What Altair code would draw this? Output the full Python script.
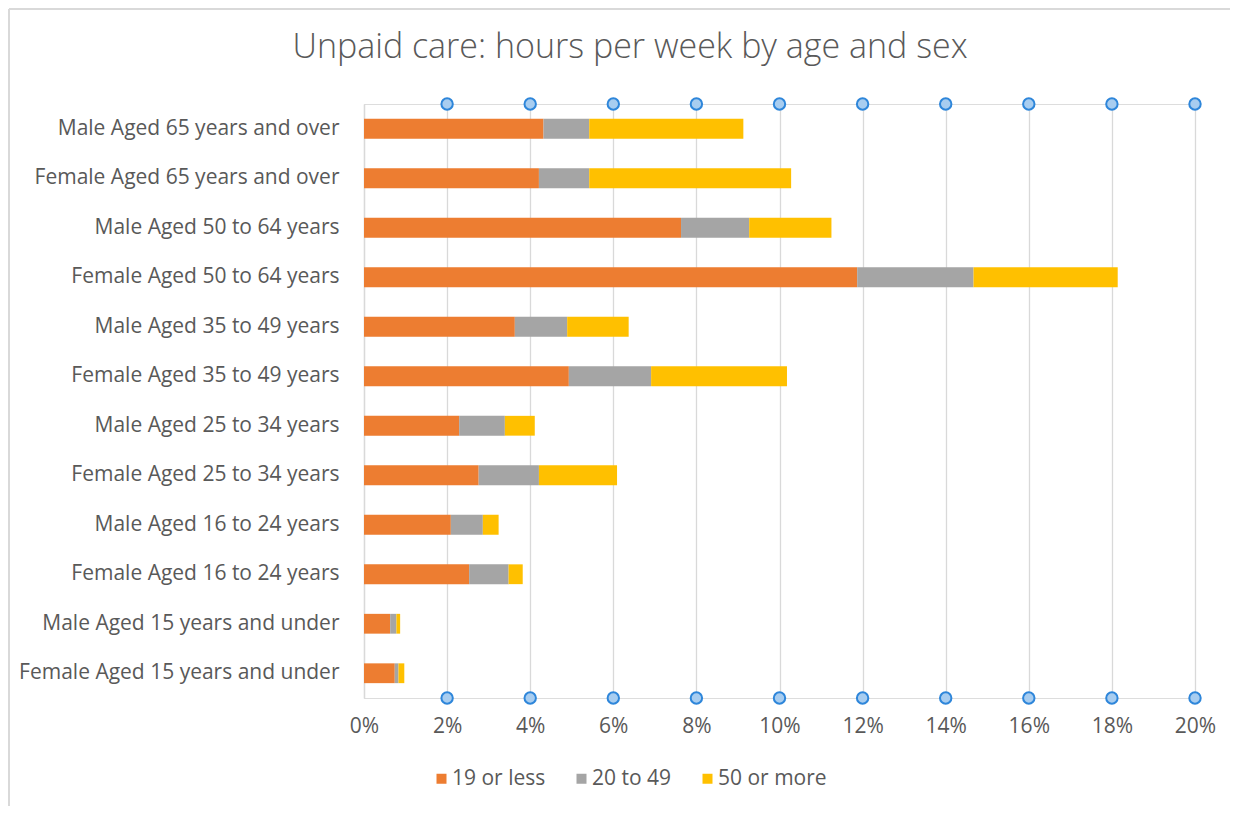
import altair as alt
import pandas as pd

categories = [
    "Male Aged 65 years and over", "Female Aged 65 years and over",
    "Male Aged 50 to 64 years", "Female Aged 50 to 64 years",
    "Male Aged 35 to 49 years", "Female Aged 35 to 49 years",
    "Male Aged 25 to 34 years", "Female Aged 25 to 34 years",
    "Male Aged 16 to 24 years", "Female Aged 16 to 24 years",
    "Male Aged 15 years and under", "Female Aged 15 years and under",
]
series = ["19 or less", "20 to 49", "50 or more"]
low = [4.32, 4.21, 7.63, 11.87, 3.63, 4.93, 2.29, 2.76, 2.09, 2.53, 0.63, 0.74]
mid = [1.10, 1.21, 1.64, 2.80, 1.26, 1.98, 1.10, 1.45, 0.77, 0.95, 0.15, 0.09]
high = [3.71, 4.86, 1.98, 3.47, 1.48, 3.27, 0.72, 1.88, 0.38, 0.34, 0.09, 0.14]
ticks = [0, 0.02, 0.04, 0.06, 0.08, 0.10, 0.12, 0.14, 0.16, 0.18, 0.20]
markers = [0.02, 0.04, 0.06, 0.08, 0.10, 0.12, 0.14, 0.16, 0.18, 0.20]
colors = ["#ED7D31", "#A5A5A5", "#FFC000"]
title_text = "Unpaid care: hours per week by age and sex"

rows = []
for i, c in enumerate(categories):
    for j, (s, vals) in enumerate(zip(series, [low, mid, high])):
        rows.append({"cat": c, "series": s, "order": j, "value": vals[i] / 100})
df = pd.DataFrame(rows)
mdf = pd.DataFrame({"v": markers})
one = pd.DataFrame({"t": [title_text]})

W, H = 831, 594
FONT = "Open Sans"
GREY = "#595959"
FS = 21

xscale = alt.Scale(domain=[0, 0.2], nice=False)

bars = alt.Chart(df).mark_bar().encode(
    y=alt.Y("cat:N", sort=categories, title=None,
            scale=alt.Scale(paddingInner=0.6, paddingOuter=0.3),
            axis=alt.Axis(ticks=False, domain=True, domainColor="#D9D9D9",
                          domainWidth=1.3, labelPadding=25, labelFontSize=FS,
                          labelFont=FONT, labelColor=GREY, labelLimit=400)),
    x=alt.X("value:Q", stack="zero", scale=xscale, title=None,
            axis=alt.Axis(values=ticks, format=".0%", grid=True, gridColor="#D9D9D9",
                          gridWidth=1.3, ticks=False, domain=False, labelPadding=17,
                          labelFlush=False, labelFontSize=FS, labelFont=FONT,
                          labelColor=GREY)),
    color=alt.Color("series:N", scale=alt.Scale(domain=series, range=colors),
                    legend=alt.Legend(title=None, orient="none", direction="horizontal",
                                      legendX=67, legendY=664, symbolType="square",
                                      symbolSize=100, labelFontSize=FS, labelFont=FONT,
                                      labelColor=GREY, labelOffset=0, columnPadding=25,
                                      symbolStrokeWidth=0)),
    order=alt.Order("order:Q"),
)

def pts(yv):
    return alt.Chart(mdf).mark_point(shape="circle", filled=False, size=130,
                                     fill="#A8CDF0", fillOpacity=1, stroke="#2E86DA",
                                     strokeWidth=2, opacity=1).encode(
        x=alt.X("v:Q", scale=xscale), y=alt.value(yv))

title = alt.Chart(one).mark_text(font=FONT, fontSize=34, fontWeight=300, color=GREY,
                                 align="center", baseline="middle").encode(
    text="t:N", x=alt.value(266), y=alt.value(-56))

border_v = alt.Chart(one).mark_rule(color="#D9D9D9", strokeWidth=2).encode(
    x=alt.value(-355), y=alt.value(-95), y2=alt.value(H + 140))
border_h = alt.Chart(one).mark_rule(color="#D9D9D9", strokeWidth=2).encode(
    x=alt.value(-355), x2=alt.value(W + 50), y=alt.value(-95))

chart = alt.layer(bars, pts(0), pts(H), title, border_v, border_h).properties(
    width=W, height=H,
    autosize=alt.AutoSizeParams(type="none"),
    padding={"left": 356, "top": 96, "right": 35, "bottom": 108},
).configure_view(strokeWidth=0, stroke="transparent").configure(background="white")

chart.save("out.html", embed_options={"renderer": "svg", "actions": False})
